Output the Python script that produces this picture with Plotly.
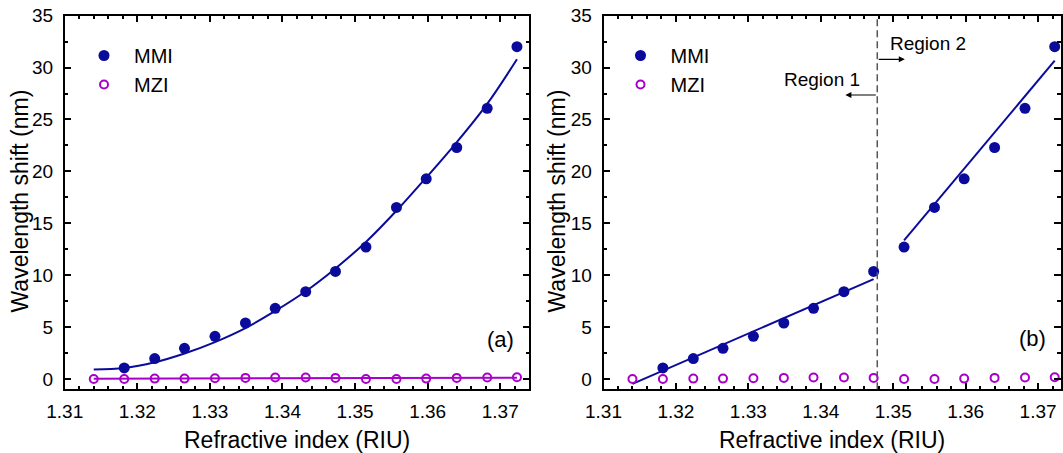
import plotly.graph_objects as go

W, H = 1063, 453
FONT = "Arial, Liberation Sans, sans-serif"
BLUE = "#0b0b9b"
MAG = "#a800c8"

# ---- data ----
ri_all = [1.3140, 1.3182, 1.3224, 1.3265, 1.3307, 1.3349, 1.3390, 1.3432,
          1.3473, 1.3515, 1.3557, 1.3598, 1.3640, 1.3682, 1.3723]
mmi_ri = ri_all[1:]
mmi_shift = [1.06, 1.96, 2.95, 4.11, 5.39, 6.80, 8.41, 10.36, 12.70, 16.52,
             19.28, 22.30, 26.08, 32.02]
mzi_shift = [0.0, 0.0, 0.03, 0.03, 0.06, 0.10, 0.13, 0.13, 0.10, 0.0, 0.0,
             0.03, 0.10, 0.13, 0.16]

# fitted curves
fit_a_x = ri_all
fit_a_y = [0.9, 1.05, 1.6, 2.45, 3.55, 4.9, 6.55, 8.45, 10.65, 13.2, 16.2,
           19.4, 22.8, 26.5, 30.8]
fit_mzi_x = [1.3140, 1.3723]
fit_mzi_y = [0.02, 0.12]
fit_r1_x = [1.3140, 1.3473]
fit_r1_y = [-0.48, 9.62]
fit_r2_x = [1.3515, 1.3723]
fit_r2_y = [13.35, 30.67]
region_boundary = 1.3478

fig = go.Figure()

# ---- panel (a) ----
fig.add_trace(go.Scatter(x=fit_a_x, y=fit_a_y, mode="lines", line=dict(color=BLUE, width=2, shape="spline"),
                         showlegend=False, xaxis="x", yaxis="y"))
fig.add_trace(go.Scatter(x=fit_mzi_x, y=fit_mzi_y, mode="lines", line=dict(color=MAG, width=2),
                         showlegend=False, xaxis="x", yaxis="y"))
fig.add_trace(go.Scatter(x=mmi_ri, y=mmi_shift, mode="markers", name="MMI",
                         marker=dict(color=BLUE, size=11, symbol="circle"),
                         xaxis="x", yaxis="y", legend="legend"))
fig.add_trace(go.Scatter(x=ri_all, y=mzi_shift, mode="markers", name="MZI",
                         marker=dict(color=MAG, size=8, symbol="circle-open", line=dict(width=2, color=MAG)),
                         xaxis="x", yaxis="y", legend="legend"))

# ---- panel (b) ----
fig.add_trace(go.Scatter(x=fit_r1_x, y=fit_r1_y, mode="lines", line=dict(color=BLUE, width=2),
                         showlegend=False, xaxis="x2", yaxis="y2"))
fig.add_trace(go.Scatter(x=fit_r2_x, y=fit_r2_y, mode="lines", line=dict(color=BLUE, width=2),
                         showlegend=False, xaxis="x2", yaxis="y2"))
fig.add_trace(go.Scatter(x=mmi_ri, y=mmi_shift, mode="markers", name="MMI",
                         marker=dict(color=BLUE, size=11, symbol="circle"),
                         xaxis="x2", yaxis="y2", legend="legend2"))
fig.add_trace(go.Scatter(x=ri_all, y=mzi_shift, mode="markers", name="MZI",
                         marker=dict(color=MAG, size=8, symbol="circle-open", line=dict(width=2, color=MAG)),
                         xaxis="x2", yaxis="y2", legend="legend2"))

def xax(domain, rng):
    return dict(domain=domain, range=rng, tick0=1.31, dtick=0.01, tickformat=".2f",
                ticks="inside", ticklen=7, tickwidth=1.5, tickcolor="black",
                minor=dict(dtick=0.002, tick0=1.31, ticks="inside", ticklen=4, tickwidth=1.5, tickcolor="black"),
                showline=True, linewidth=1.5, linecolor="black", mirror="allticks",
                showgrid=False, zeroline=False, ticklabelstandoff=4, automargin=False,
                tickfont=dict(family=FONT, size=19, color="black"))

def yax(domain, anchor):
    return dict(domain=domain, range=[-1, 35], tick0=0, dtick=5, anchor=anchor,
                ticks="inside", ticklen=7, tickwidth=1.5, tickcolor="black",
                minor=dict(dtick=2.5, ticks="inside", ticklen=4, tickwidth=1.5, tickcolor="black"),
                showline=True, linewidth=1.5, linecolor="black", mirror="allticks",
                showgrid=False, zeroline=False, ticklabelstandoff=6, automargin=False,
                tickfont=dict(family=FONT, size=19, color="black"))

yd = [1 - 389.3 / H, 1 - 15.7 / H]
xa = [64.7 / W, 529.3 / W]
xb = [603.5 / W, 1060.5 / W]

leg = dict(font=dict(family=FONT, size=20, color="black"), bgcolor="rgba(0,0,0,0)",
           itemwidth=50, xanchor="left", yanchor="top", tracegroupgap=0)

fig.update_layout(
    template="none",
    width=W, height=H, margin=dict(l=0, r=0, t=0, b=0, autoexpand=False),
    plot_bgcolor="white", paper_bgcolor="white",
    xaxis=xax(xa, [1.31, 1.374]) | dict(anchor="y"),
    yaxis=yax(yd, "x"),
    xaxis2=xax(xb, [1.31, 1.3731]) | dict(anchor="y2"),
    yaxis2=yax(yd, "x2"),
    legend=leg | dict(x=74 / W, y=1 - 36 / H),
    legend2=leg | dict(x=610.5 / W, y=1 - 36 / H),
    showlegend=True,
)

TF = dict(family=FONT, size=23, color="black")
ann = [
    dict(text="Wavelength shift (nm)", x=20 / W, y=1 - 201.5 / H, xref="paper", yref="paper",
         textangle=-90, showarrow=False, font=TF, xanchor="center", yanchor="middle"),
    dict(text="Wavelength shift (nm)", x=557 / W, y=1 - 201.5 / H, xref="paper", yref="paper",
         textangle=-90, showarrow=False, font=TF, xanchor="center", yanchor="middle"),
    dict(text="Refractive index (RIU)", x=(xa[0] + xa[1]) / 2, y=1 - 440 / H, xref="paper", yref="paper",
         showarrow=False, font=TF, xanchor="center", yanchor="middle"),
    dict(text="Refractive index (RIU)", x=(xb[0] + xb[1]) / 2, y=1 - 440 / H, xref="paper", yref="paper",
         showarrow=False, font=TF, xanchor="center", yanchor="middle"),
    dict(text="(a)", x=1.3700, y=3.8, xref="x", yref="y", showarrow=False,
         font=dict(family=FONT, size=22, color="black")),
    dict(text="(b)", x=1.3693, y=3.9, xref="x2", yref="y2", showarrow=False,
         font=dict(family=FONT, size=22, color="black")),
    dict(text="Region 1", x=1.3401, y=28.9, xref="x2", yref="y2", showarrow=False,
         font=dict(family=FONT, size=19, color="black")),
    dict(text="Region 2", x=1.3548, y=32.3, xref="x2", yref="y2", showarrow=False,
         font=dict(family=FONT, size=19, color="black")),
    dict(text="", x=1.3434, y=27.36, ax=region_boundary, ay=27.36, xref="x2", yref="y2",
         axref="x2", ayref="y2", showarrow=True, arrowhead=2, arrowsize=1, arrowwidth=1.2, arrowcolor="black"),
    dict(text="", x=1.3516, y=30.8, ax=region_boundary, ay=30.8, xref="x2", yref="y2",
         axref="x2", ayref="y2", showarrow=True, arrowhead=2, arrowsize=1, arrowwidth=1.2, arrowcolor="black"),
]
fig.update_layout(annotations=ann)

fig.add_shape(type="line", x0=region_boundary, x1=region_boundary, y0=0, y1=1,
              xref="x2", yref="y2 domain", line=dict(color="#555555", width=1.5, dash="7px,4px"))

fig.write_html("out.html")
